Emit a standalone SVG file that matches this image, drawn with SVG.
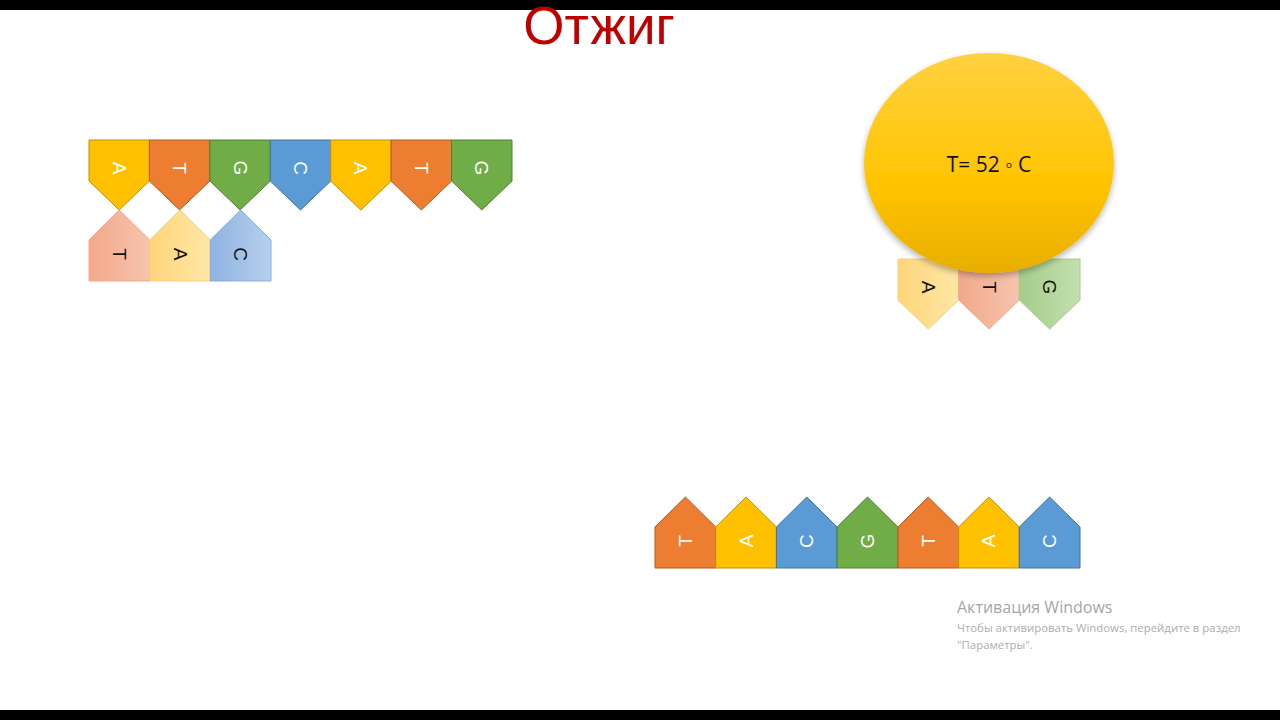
<svg xmlns="http://www.w3.org/2000/svg" width="1280" height="720" viewBox="0 0 1280 720">
<style>
.bar{fill:#000}
.title{font-family:"Liberation Sans",Arial,sans-serif;font-size:53px;fill:#C00000;text-anchor:middle}
.lw{font-family:"Liberation Sans",Arial,sans-serif;font-size:19px;fill:#fff;text-anchor:middle;dominant-baseline:central}
.lb{font-family:"Liberation Sans",Arial,sans-serif;font-size:19px;fill:#111;text-anchor:middle;dominant-baseline:central}
.Y{fill:#FFC000;stroke:#BF9000;stroke-width:1}
.O{fill:#ED7D31;stroke:#AE5A21;stroke-width:1}
.G{fill:#70AD47;stroke:#507E32;stroke-width:1}
.B{fill:#5B9BD5;stroke:#41719C;stroke-width:1}
.lY{fill:url(#gY);stroke:#F2D27A;stroke-width:1}
.lO{fill:url(#gO);stroke:#EFA98A;stroke-width:1}
.lG{fill:url(#gG);stroke:#A6CC8C;stroke-width:1}
.lB{fill:url(#gB);stroke:#86ADD9;stroke-width:1}
.temp{font-family:"Open Sans","Liberation Sans",sans-serif;font-size:21px;fill:#111;text-anchor:middle}
.wm1{font-family:"Open Sans","Noto Sans",sans-serif;font-size:16px;fill:#A6A6A6}
.wm2{font-family:"Open Sans","Noto Sans",sans-serif;font-size:11.4px;fill:#ADADAD}
</style>
<defs>
<linearGradient id="gY" x1="0" y1="0" x2="1" y2="0"><stop offset="0" stop-color="#FFD57A"/><stop offset="1" stop-color="#FFE6A6"/></linearGradient>
<linearGradient id="gO" x1="0" y1="0" x2="1" y2="0"><stop offset="0" stop-color="#F2A88A"/><stop offset="1" stop-color="#F6C4AE"/></linearGradient>
<linearGradient id="gG" x1="0" y1="0" x2="1" y2="0"><stop offset="0" stop-color="#A5CD8A"/><stop offset="1" stop-color="#C3DFB0"/></linearGradient>
<linearGradient id="gB" x1="0" y1="0" x2="1" y2="0"><stop offset="0" stop-color="#8FB2E0"/><stop offset="1" stop-color="#B6D0EE"/></linearGradient>
<linearGradient id="gSun" x1="0" y1="0" x2="0" y2="1"><stop offset="0" stop-color="#FFD140"/><stop offset="0.6" stop-color="#FFC400"/><stop offset="1" stop-color="#E8AE00"/></linearGradient>
<filter id="sh" x="-20%" y="-20%" width="140%" height="150%"><feGaussianBlur in="SourceAlpha" stdDeviation="3"/><feOffset dy="3"/><feComponentTransfer><feFuncA type="linear" slope="0.3"/></feComponentTransfer><feMerge><feMergeNode/><feMergeNode in="SourceGraphic"/></feMerge></filter>
</defs>
<rect width="1280" height="720" fill="#fff"/>
<rect class="bar" x="0" y="0" width="1280" height="10"/>
<rect class="bar" x="0" y="710" width="1280" height="10"/>

<g id="title"><text class="title" x="599" y="44">Отжиг</text></g>

<!-- top template strand (pointing down) -->
<g id="strand-top">
<g id="t1"><polygon class="Y" points="89,140 149.4,140 149.4,181 119.2,210 89,181"/><text class="lw" x="119.2" y="168" transform="rotate(90 119.2 168)">A</text></g>
<g id="t2"><polygon class="O" points="149.4,140 209.9,140 209.9,181 179.6,210 149.4,181"/><text class="lw" x="179.6" y="168" transform="rotate(90 179.6 168)">T</text></g>
<g id="t3"><polygon class="G" points="209.9,140 270.3,140 270.3,181 240.1,210 209.9,181"/><text class="lw" x="240.1" y="168" transform="rotate(90 240.1 168)">G</text></g>
<g id="t4"><polygon class="B" points="270.3,140 330.7,140 330.7,181 300.5,210 270.3,181"/><text class="lw" x="300.5" y="168" transform="rotate(90 300.5 168)">C</text></g>
<g id="t5"><polygon class="Y" points="330.7,140 391.1,140 391.1,181 360.9,210 330.7,181"/><text class="lw" x="360.9" y="168" transform="rotate(90 360.9 168)">A</text></g>
<g id="t6"><polygon class="O" points="391.1,140 451.6,140 451.6,181 421.4,210 391.1,181"/><text class="lw" x="421.4" y="168" transform="rotate(90 421.4 168)">T</text></g>
<g id="t7"><polygon class="G" points="451.6,140 512,140 512,181 481.8,210 451.6,181"/><text class="lw" x="481.8" y="168" transform="rotate(90 481.8 168)">G</text></g>
</g>

<!-- annealed primer (pointing up) -->
<g id="primer-left">
<g id="p1"><polygon class="lO" points="89,281 89,240 119.3,210 149.7,240 149.7,281"/><text class="lb" x="119.3" y="254" transform="rotate(90 119.3 254)">T</text></g>
<g id="p2"><polygon class="lY" points="149.7,281 149.7,240 180,210 210.3,240 210.3,281"/><text class="lb" x="180" y="254" transform="rotate(90 180 254)">A</text></g>
<g id="p3"><polygon class="lB" points="210.3,281 210.3,240 240.7,210 271,240 271,281"/><text class="lb" x="240.7" y="254" transform="rotate(90 240.7 254)">C</text></g>
</g>

<!-- free primer under circle (pointing down) -->
<g id="primer-right">
<g id="r1"><polygon class="lY" points="898,259 958.7,259 958.7,300 928.3,329 898,300"/><text class="lb" x="928.3" y="287" transform="rotate(90 928.3 287)">A</text></g>
<g id="r2"><polygon class="lO" points="958.7,259 1019.3,259 1019.3,300 989,329 958.7,300"/><text class="lb" x="989" y="287" transform="rotate(90 989 287)">T</text></g>
<g id="r3"><polygon class="lG" points="1019.3,259 1080,259 1080,300 1049.7,329 1019.3,300"/><text class="lb" x="1049.7" y="287" transform="rotate(90 1049.7 287)">G</text></g>
</g>

<g id="temperature">
<ellipse cx="989" cy="163" rx="125" ry="110" fill="url(#gSun)" filter="url(#sh)"/>
<text class="temp" x="989" y="172">T= 52 ◦ C</text>
</g>

<!-- bottom complementary strand (pointing up) -->
<g id="strand-bottom">
<g id="b1"><polygon class="O" points="655,568 655,527 685.4,497 715.7,527 715.7,568"/><text class="lw" x="685.4" y="541" transform="rotate(-90 685.4 541)">T</text></g>
<g id="b2"><polygon class="Y" points="715.7,568 715.7,527 746.1,497 776.4,527 776.4,568"/><text class="lw" x="746.1" y="541" transform="rotate(-90 746.1 541)">A</text></g>
<g id="b3"><polygon class="B" points="776.4,568 776.4,527 806.8,497 837.1,527 837.1,568"/><text class="lw" x="806.8" y="541" transform="rotate(-90 806.8 541)">C</text></g>
<g id="b4"><polygon class="G" points="837.1,568 837.1,527 867.5,497 897.9,527 897.9,568"/><text class="lw" x="867.5" y="541" transform="rotate(-90 867.5 541)">G</text></g>
<g id="b5"><polygon class="O" points="897.9,568 897.9,527 928.2,497 958.6,527 958.6,568"/><text class="lw" x="928.2" y="541" transform="rotate(-90 928.2 541)">T</text></g>
<g id="b6"><polygon class="Y" points="958.6,568 958.6,527 988.9,497 1019.3,527 1019.3,568"/><text class="lw" x="988.9" y="541" transform="rotate(-90 988.9 541)">A</text></g>
<g id="b7"><polygon class="B" points="1019.3,568 1019.3,527 1049.6,497 1080,527 1080,568"/><text class="lw" x="1049.6" y="541" transform="rotate(-90 1049.6 541)">C</text></g>
</g>

<g id="watermark">
<text class="wm1" x="957" y="613">Активация Windows</text>
<text class="wm2" x="957" y="632">Чтобы активировать Windows, перейдите в раздел</text>
<text class="wm2" x="957" y="649">"Параметры".</text>
</g>
</svg>
